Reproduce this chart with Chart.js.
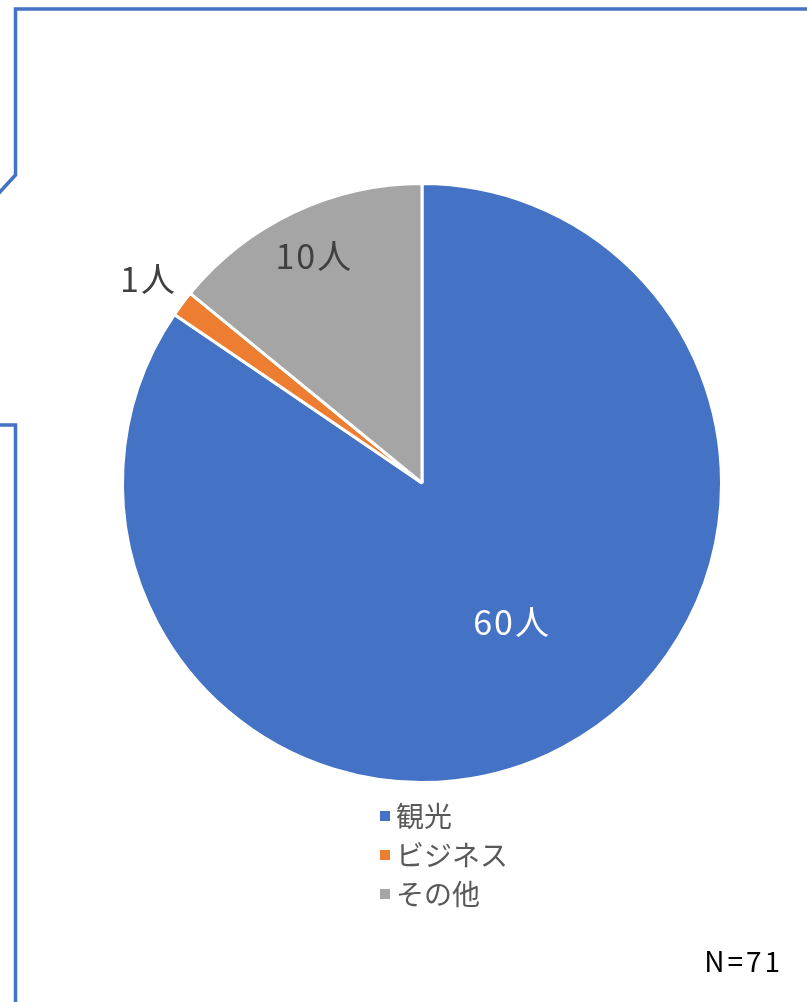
<!DOCTYPE html>
<html>
<head>
<meta charset="utf-8">
<script src="https://cdn.jsdelivr.net/npm/chart.js@4"></script>
<style>
html, body { margin: 0; padding: 0; background: #fff; overflow: hidden; }
#wrap { position: relative; width: 807px; height: 1002px; }
</style>
</head>
<body>
<div id="wrap"><canvas id="myChart"></canvas></div>
<script>
const categories = ['観光', 'ビジネス', 'その他'];
const counts = [60, 1, 10];
const unit = '人';
const sampleNote = 'N=71';

const sliceColors = ['#4472C4', '#ED7D31', '#A5A5A5'];
const labelColors = ['#ffffff', '#404040', '#404040'];
const labelRadius = [0.55, 1.14, 0.84];
const labelNudge = [[13, -7], [0, 0], [0, 0]];
const fontJa = '"Noto Sans CJK JP", "Noto Sans", sans-serif';

// callout outline behind the chart
const frame = {
    id: 'frame',
    beforeDraw: (chart) => {
        const ctx = chart.ctx;
        ctx.save();
        ctx.strokeStyle = '#4472C4';
        ctx.lineWidth = 3.5;
        ctx.lineJoin = 'miter';
        ctx.beginPath();
        ctx.moveTo(-2, 194);
        ctx.lineTo(15.5, 175);
        ctx.lineTo(15.5, 9);
        ctx.lineTo(812, 9);
        ctx.stroke();
        ctx.beginPath();
        ctx.moveTo(-2, 425);
        ctx.lineTo(15.5, 425);
        ctx.lineTo(15.5, 1010);
        ctx.stroke();
        ctx.restore();
    }
};

const sliceLabels = {
    id: 'sliceLabels',
    afterDatasetsDraw: (chart) => {
        const ctx = chart.ctx;
        const arcs = chart.getDatasetMeta(0).data;
        ctx.save();
        ctx.font = '34px ' + fontJa;
        ctx.letterSpacing = '2px';
        ctx.textAlign = 'center';
        ctx.textBaseline = 'middle';
        arcs.forEach((arc, i) => {
            const p = arc.getProps(['x', 'y', 'startAngle', 'endAngle', 'outerRadius'], true);
            const mid = (p.startAngle + p.endAngle) / 2;
            const r = p.outerRadius * labelRadius[i];
            ctx.fillStyle = labelColors[i];
            ctx.fillText(counts[i] + unit,
                p.x + r * Math.cos(mid) + labelNudge[i][0],
                p.y + r * Math.sin(mid) + labelNudge[i][1]);
        });
        ctx.restore();
    }
};

// vertical legend + note
const sideText = {
    id: 'sideText',
    afterDraw: (chart) => {
        const ctx = chart.ctx;
        ctx.save();
        ctx.font = '28px ' + fontJa;
        ctx.textBaseline = 'middle';
        ctx.textAlign = 'left';
        chart.data.labels.forEach((lab, i) => {
            const y = 816 + i * 39;
            ctx.fillStyle = sliceColors[i];
            ctx.fillRect(380, y - 5, 10, 10);
            ctx.fillStyle = '#595959';
            ctx.fillText(lab, 396, y);
        });
        ctx.font = '28px ' + fontJa;
        ctx.letterSpacing = '3px';
        ctx.fillStyle = '#000000';
        ctx.textAlign = 'right';
        ctx.fillText(sampleNote, 783, 961);
        ctx.restore();
    }
};

const data1 = {
    labels: categories,
    datasets: [{
        data: counts,
        backgroundColor: sliceColors,
        borderColor: '#ffffff',
        borderWidth: 3
    }]
};

const options = {
    maintainAspectRatio: false,
    animation: false,
    layout: { padding: { left: 121, top: 182, right: 84, bottom: 218 } },
    plugins: {
        legend: { display: false },
        tooltip: { enabled: false }
    }
};

var myChart = new Chart(document.getElementById('myChart'), {
    type: 'pie',
    data: data1,
    options: options,
    plugins: [frame, sliceLabels, sideText]
});
</script>
</body>
</html>
